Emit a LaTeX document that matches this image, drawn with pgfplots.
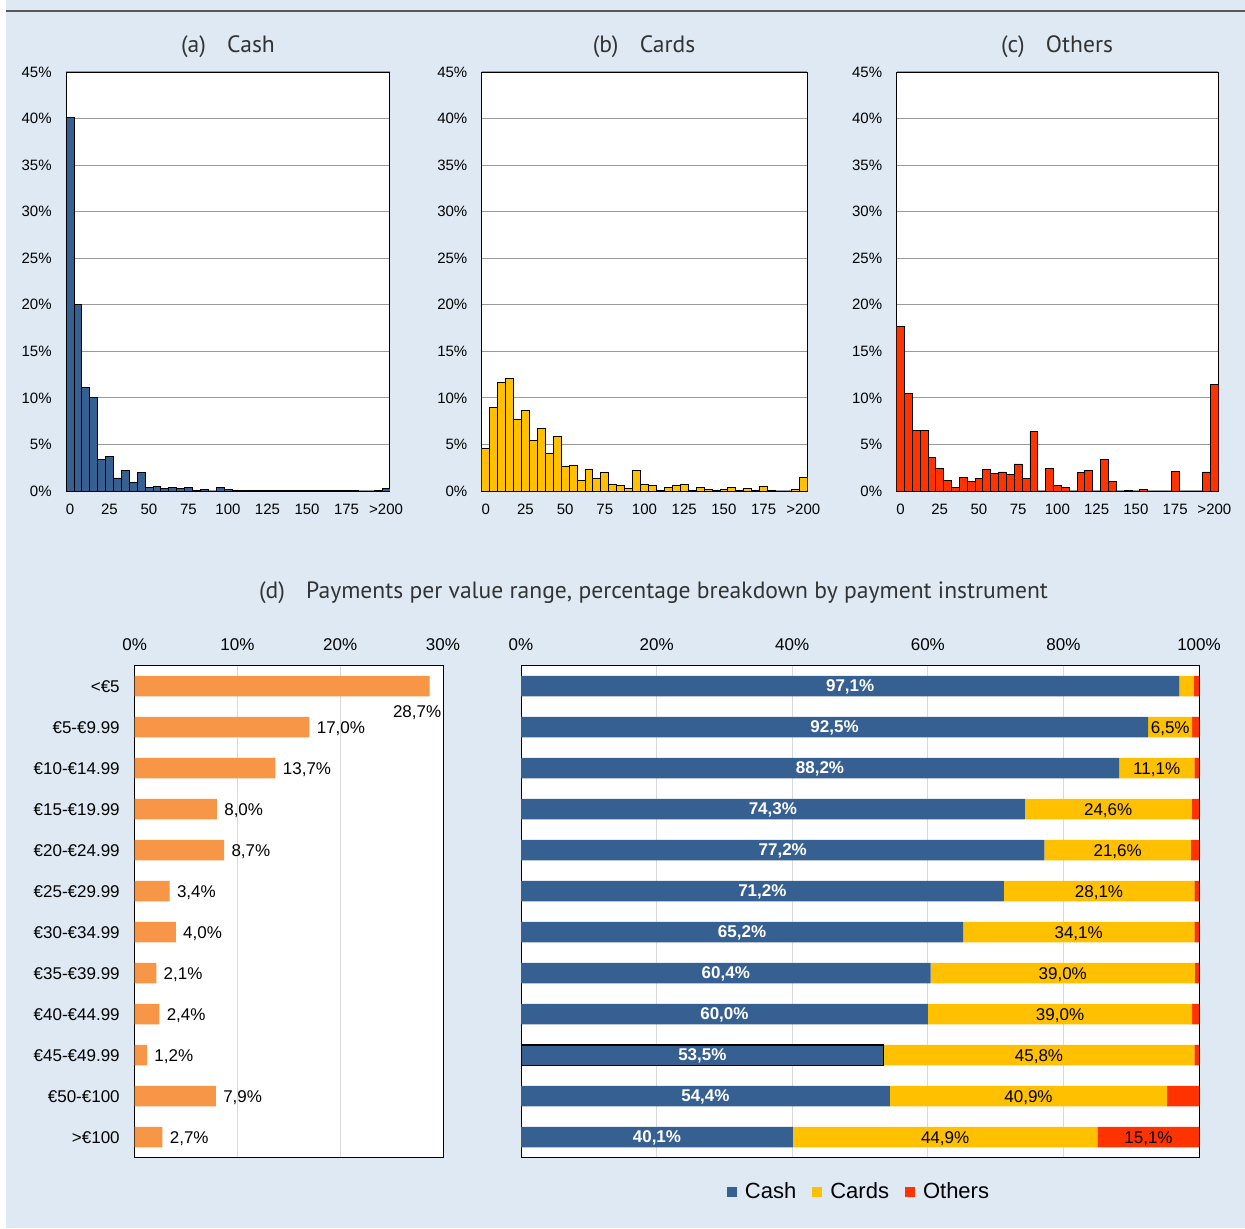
\documentclass[border=0pt]{standalone}
\usepackage{pgfplots}
\pgfplotsset{compat=1.18}
\usepackage{pgfplotstable}
\usepackage{fontspec}
\setmainfont{Liberation Sans}
\newfontfamily\titlefont{PT Sans}
\definecolor{bg}{RGB}{222,233,243}
\definecolor{cashc}{RGB}{55,96,146}
\definecolor{cardc}{RGB}{255,192,0}
\definecolor{othc}{RGB}{255,51,0}
\definecolor{orc}{RGB}{247,150,70}
\newcommand\fs[1]{\fontsize{#1}{#1}\selectfont}

\pgfplotstableread{
bin cash cards others
0 40.1 4.6 17.7
1 20.0 9.0 10.5
2 11.1 11.7 6.5
3 10.0 12.1 6.5
4 3.4 7.7 3.6
5 3.7 8.7 2.4
6 1.4 5.4 1.15
7 2.2 6.7 0.36
8 0.9 4.0 1.5
9 2.0 5.9 1.0
10 0.4 2.6 1.3
11 0.5 2.8 2.3
12 0.3 1.1 1.9
13 0.4 2.3 2.05
14 0.3 1.4 1.8
15 0.4 2.0 2.9
16 0.1 0.7 1.3
17 0.2 0.6 6.4
18 0.0 0.25 0
19 0.4 2.2 2.4
20 0.15 0.7 0.57
21 0.05 0.55 0.4
22 0.02 0.05 0
23 0.1 0.4 2.0
24 0.02 0.65 2.2
25 0.05 0.7 0
26 0.02 0.05 3.4
27 0.1 0.4 1.0
28 0.02 0.15 0
29 0.08 0.1 0.07
30 0.05 0.2 0
31 0.02 0.35 0.2
32 0.03 0.1 0
33 0.02 0.3 0
34 0.02 0.05 0
35 0.04 0.5 2.1
36 0.02 0.07 0
37 0.01 0 0
38 0.01 0 0
39 0.02 0.18 2.05
40 0.3 1.5 11.4
}\hist

\pgfplotstableread{
idx share
0 28.7
1 17.0
2 13.7
3 8.0
4 8.7
5 3.4
6 4.0
7 2.1
8 2.4
9 1.2
10 7.9
11 2.7
}\share

\pgfplotstableread{
idx cash cards others
0 97.1 2.1 0.8
1 92.5 6.5 1.0
2 88.2 11.1 0.7
3 74.3 24.6 1.1
4 77.2 21.6 1.2
5 71.2 28.1 0.7
6 65.2 34.1 0.7
7 60.4 39.0 0.6
8 60.0 39.0 1.0
9 53.5 45.8 0.7
10 54.4 40.9 4.7
11 40.1 44.9 15.1
}\mix

\pgfplotsset{
  histo/.style={
    anchor=south west, scale only axis, height=209.5pt,
    ybar, bar width=1, bar shift=0pt,
    xmin=-0.5, xmax=40.5, ymin=0, ymax=45,
    ytick={0,5,...,45},
    yticklabels={0\%,5\%,10\%,15\%,20\%,25\%,30\%,35\%,40\%,45\%},
    xtick={0,5,...,40},
    xticklabels={0,25,50,75,100,125,150,175,>200},
    ymajorgrids, major grid style={draw=black!40, line width=0.6pt},
    major tick length=0pt,
    tick label style={font=\fs{7.5}, inner sep=0pt},
    yticklabel style={xshift=-7pt},
    xticklabel style={yshift=-6.5pt},
    axis line style={line width=0.5pt, black},
    axis background/.style={fill=white},
  },
  pct/.style={
    nodes near coords={\pgfmathprintnumber[fixed,fixed zerofill,precision=1,use comma,assume math mode=true]{\pgfplotspointmeta}\%},
  },
  bottom/.style={
    anchor=south west, scale only axis, height=246pt,
    ymin=-0.5, ymax=11.5, y dir=reverse,
    xticklabel pos=upper,
    xmajorgrids, major grid style={draw=black!15, line width=0.5pt},
    major tick length=0pt,
    tick label style={font=\fs{8.5}, inner sep=0pt},
    xticklabel style={yshift=7.3pt},
    yticklabel style={xshift=-7.3pt},
    axis line style={line width=0.5pt, black},
  },
}

\begin{document}
\begin{tikzpicture}[x=0.5pt,y=0.5pt]
\useasboundingbox (0,0) rectangle (1245,1228);
\fill[white] (0,0) rectangle (1245,1228);
\fill[bg] (6,0) rectangle (1245,1228);
\draw[line width=0.75pt, black!65] (6,1217) -- (1245,1217);

% titles
\node[anchor=base, font=\titlefont\fs{11.8}, text=black!80] at (228,1175.7) {(a)\hspace{0.9em}Cash};
\node[anchor=base, font=\titlefont\fs{11.8}, text=black!80] at (644,1175.7) {(b)\hspace{0.9em}Cards};
\node[anchor=base, font=\titlefont\fs{11.8}, text=black!80] at (1057,1175.7) {(c)\hspace{0.9em}Others};
\node[anchor=base, font=\titlefont\fs{11.8}, text=black!80] at (653.5,629.7) {(d)\hspace{0.9em}Payments per value range, percentage breakdown by payment instrument};

% (a) Cash
\begin{axis}[histo, at={(33pt,368.5pt)}, width=162pt]
\addplot[fill=cashc, draw=black, line width=0.4pt] table[x=bin,y=cash]{\hist};
\end{axis}
% (b) Cards
\begin{axis}[histo, at={(240.85pt,368.5pt)}, width=162.8pt]
\addplot[fill=cardc, draw=black, line width=0.4pt] table[x=bin,y=cards]{\hist};
\end{axis}
% (c) Others
\begin{axis}[histo, at={(448.25pt,368.5pt)}, width=160.9pt]
\addplot[fill=othc, draw=black, line width=0.4pt] table[x=bin,y=others]{\hist};
\end{axis}

% (d) left: share of payments per value range
\begin{axis}[bottom, at={(67.35pt,35.15pt)}, width=154.15pt,
  xmin=0, xmax=30, xtick={0,10,20,30}, xticklabels={0\%,10\%,20\%,30\%},
  ytick={0,...,11},
  yticklabels={<€5,€5-€9.99,€10-€14.99,€15-€19.99,€20-€24.99,€25-€29.99,€30-€34.99,€35-€39.99,€40-€44.99,€45-€49.99,€50-€100,>€100},
  axis background/.style={fill=white},
]
\addplot[xbar, bar width=0.5, bar shift=0pt, fill=orc, draw=none] table[x=share,y=idx]{\share};
\addplot[draw=none, pct, point meta=x, restrict expr to domain={\coordindex}{0.5:11.5},
  every node near coord/.append style={anchor=west, inner sep=0pt, xshift=3.5pt, yshift=-0.5pt, font=\fs{8.5}}]
  table[x=share,y=idx]{\share};
\addplot[draw=none, pct, point meta=x, restrict expr to domain={\coordindex}{-0.5:0.5},
  every node near coord/.append style={anchor=north east, inner sep=0pt, xshift=6pt, yshift=-9.5pt, font=\fs{8.5}}]
  table[x=share,y=idx]{\share};
\end{axis}

% (d) right: breakdown by instrument
\begin{axis}[bottom, at={(260.5pt,35.15pt)}, width=339pt,
  xbar stacked, bar width=0.5,
  xmin=0, xmax=100, xtick={0,20,...,100}, xticklabels={0\%,20\%,40\%,60\%,80\%,100\%},
  ytick=\empty,
  axis background/.style={fill=white},
  legend style={at={(0.5,-0.07)}, anchor=center, draw=none, fill=none, legend columns=3,
    font=\fs{11}, /tikz/every even column/.append style={column sep=6pt},
    /tikz/every odd column/.append style={column sep=2pt}},
  legend image code/.code={\fill[#1] (0pt,-2.5pt) rectangle (5pt,2.5pt);},
]
\addplot[fill=cashc, draw=none] table[x=cash,y=idx]{\mix};
\addplot[fill=cardc, draw=none] table[x=cards,y=idx]{\mix};
\addplot[fill=othc, draw=none] table[x=others,y=idx]{\mix};
\legend{Cash,Cards,Others}
\end{axis}

% labels for the stacked bars
\begin{axis}[anchor=south west, at={(260.5pt,35.15pt)}, scale only axis, width=339pt, height=246pt, hide axis,
  xmin=0, xmax=100, ymin=-0.5, ymax=11.5, y dir=reverse,
  every node near coord/.append style={anchor=center, yshift=-0.5pt, font=\fs{8.5}},
]
\addplot[xbar, bar width=0.5, bar shift=0pt, fill=none, draw=black, line width=0.6pt,
  restrict expr to domain={\coordindex}{8.5:9.5}] table[x=cash,y=idx]{\mix};
\addplot[draw=none, pct, point meta=explicit, every node near coord/.append style={text=white, font=\fs{8.5}\bfseries}]
  table[x expr=\thisrow{cash}/2, y=idx, meta=cash]{\mix};
\addplot[draw=none, pct, point meta=explicit, restrict expr to domain={\thisrow{cards}}{5:200}]
  table[x expr=\thisrow{cash}+\thisrow{cards}/2, y=idx, meta=cards]{\mix};
\addplot[draw=none, pct, point meta=explicit, restrict expr to domain={\thisrow{others}}{5:200}]
  table[x expr=\thisrow{cash}+\thisrow{cards}+\thisrow{others}/2, y=idx, meta=others]{\mix};
\end{axis}
\end{tikzpicture}
\end{document}
